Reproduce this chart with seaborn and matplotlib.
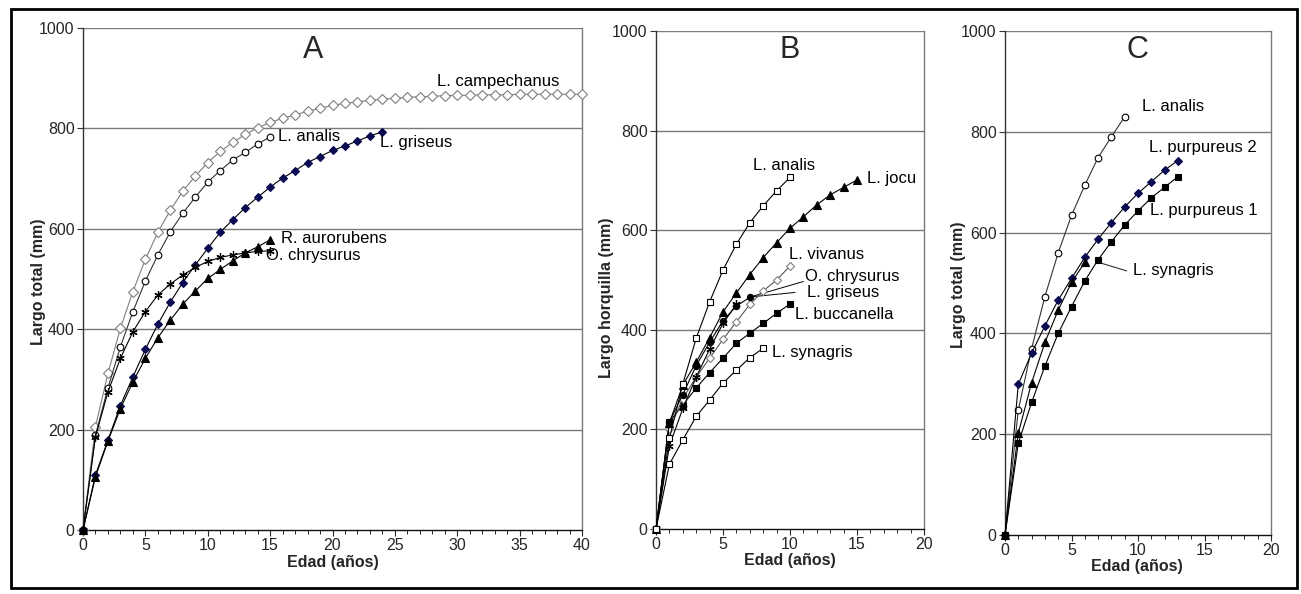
import numpy as np
import pandas as pd
import matplotlib
matplotlib.use("Agg")
import matplotlib.pyplot as plt
from matplotlib.patches import Rectangle
from matplotlib.ticker import MultipleLocator
import seaborn as sns

# ---------------- data ----------------
# Panel A : Largo total (mm) vs Edad (años)
a_campechanus = [0, 206, 312, 402, 475, 539, 593, 637, 675, 705, 732, 754, 772, 788, 801,
                 812, 820, 827, 834, 840, 846, 850, 853, 856, 858, 860, 862, 863, 864, 865,
                 866, 866, 867, 867, 867, 868, 868, 868, 868, 868, 868]
a_analis = [0, 189, 283, 365, 435, 496, 548, 594, 631, 663, 693, 716, 737, 752, 769, 783]
a_griseus = [0, 110, 179, 248, 305, 360, 410, 454, 493, 528, 561, 593, 618, 642, 663, 683,
             701, 716, 732, 744, 756, 765, 775, 785, 793]
a_aurorubens = [0, 106, 177, 242, 295, 342, 383, 418, 450, 476, 501, 519, 536, 552, 564, 578]
a_chrysurus = [0, 186, 275, 342, 395, 435, 468, 490, 508, 523, 535, 543, 548, 552, 555, 556]

# Panel B : Largo horquilla (mm)
b_analis = [0, 182, 291, 383, 456, 520, 572, 615, 649, 679, 706]
b_jocu = [0, 213, 289, 335, 384, 436, 474, 511, 545, 575, 604, 627, 651, 671, 686, 701]
b_vivanus = [0, 200, 262, 305, 343, 381, 416, 451, 478, 500, 528]
b_chrysurus = [0, 167, 242, 305, 361, 413, 451]
b_griseus = [0, 215, 270, 328, 375, 418, 448, 465]
b_buccanella = [0, 215, 249, 283, 314, 343, 373, 393, 413, 433, 452]
b_synagris = [0, 130, 179, 226, 259, 293, 319, 344, 363]

# Panel C : Largo total (mm)
c_analis = [0, 248, 370, 473, 560, 634, 694, 749, 790, 830]
c_purpureus2 = [0, 299, 361, 415, 466, 509, 551, 587, 620, 651, 678, 701, 724, 743]
c_purpureus1 = [0, 182, 263, 335, 400, 453, 504, 546, 582, 615, 643, 669, 690, 711]
c_synagris = [0, 202, 302, 382, 446, 501, 541]

panel_titles = ["A", "B", "C"]
y_labels = ["Largo total (mm)", "Largo horquilla (mm)", "Largo total (mm)"]
x_label = "Edad (años)"
y_ticks = [0, 200, 400, 600, 800, 1000]

# ---------------- style ----------------
sns.set_style("white")
plt.rcParams["font.family"] = ["Liberation Sans", "DejaVu Sans"]

W, H = 1301, 594
fig = plt.figure(figsize=(W / 100, H / 100), dpi=100)
fig.patch.set_facecolor("white")

def px_axes(x0, y0, x1, y1):
    return fig.add_axes([x0 / W, 1 - y1 / H, (x1 - x0) / W, (y1 - y0) / H])

axA = px_axes(83, 28, 582, 530)
axB = px_axes(656, 31, 924, 529)
axC = px_axes(1005, 31, 1271, 535)

GRID = "#7a7a7a"

def style_axis(ax, xmax):
    ax.set_xlim(0, xmax)
    ax.set_ylim(0, 1000)
    ax.set_yticks(y_ticks)
    ax.xaxis.set_major_locator(MultipleLocator(5))
    ax.xaxis.set_minor_locator(MultipleLocator(1))
    for yv in y_ticks[1:]:
        ax.axhline(yv, color=GRID, lw=1.0, zorder=0)
    ax.spines["top"].set_visible(False)
    ax.spines["right"].set_color(GRID)
    ax.spines["right"].set_linewidth(1.0)
    ax.spines["left"].set_color("#333333")
    ax.spines["bottom"].set_color("#111111")
    ax.spines["left"].set_linewidth(1.0)
    ax.spines["bottom"].set_linewidth(1.0)
    ax.tick_params(axis="y", which="major", direction="out", length=4, width=0.8,
                   pad=2, labelsize=11.5, left=True, color="#333333")
    ax.tick_params(axis="x", which="major", direction="out", length=4, width=0.8,
                   pad=1.5, labelsize=11.5, bottom=True)
    ax.tick_params(axis="x", which="minor", direction="out", length=3, width=0.7, bottom=True)
    ax.set_xlabel("")
    ax.set_ylabel("")

def series(ax, vals, marker, color="black", mfc="black", mec="black", ms=5, lw=0.8, mew=0.8):
    ages = np.arange(len(vals))
    df = pd.DataFrame({"age": ages, "val": vals})
    sns.lineplot(data=df, x="age", y="val", ax=ax, estimator=None, sort=False,
                 color=color, marker=marker, markersize=ms, markerfacecolor=mfc,
                 markeredgecolor=mec, markeredgewidth=mew, linewidth=lw, clip_on=False,
                 zorder=3)

NAVY = "#0a0a50"
GRAYL = "#7f7f7f"
ASTER = (6, 2, 0)

# ---- Panel A ----
series(axA, a_campechanus, "D", color=GRAYL, mfc="white", mec=GRAYL, ms=4.8)
series(axA, a_analis, "o", color="#333333", mfc="white", mec="black", ms=4.8)
series(axA, a_griseus, "D", color="black", mfc=NAVY, mec=NAVY, ms=4.5)
series(axA, a_aurorubens, "^", ms=5.5)
series(axA, a_chrysurus, ASTER, ms=6, mew=0.9)
style_axis(axA, 40)
axA.set_xticks(range(0, 41, 5))

# ---- Panel B ----
series(axB, b_synagris, "s", mfc="white", ms=4.8)
series(axB, b_buccanella, "s", ms=5)
series(axB, b_vivanus, "D", color="#555555", mfc="white", mec=GRAYL, ms=4.5)
series(axB, b_chrysurus, ASTER, ms=6, mew=0.9)
series(axB, b_griseus, "o", ms=4.5)
series(axB, b_jocu, "^", ms=5.5)
series(axB, b_analis, "s", mfc="white", ms=4.8)
style_axis(axB, 20)

# ---- Panel C ----
series(axC, c_analis, "o", color="#333333", mfc="white", mec="black", ms=4.8)
series(axC, c_purpureus2, "D", color="black", mfc=NAVY, mec=NAVY, ms=4.5)
series(axC, c_purpureus1, "s", ms=5)
series(axC, c_synagris, "^", ms=5.5)
style_axis(axC, 20)

# ---- text labels ----
LFS = 12
def lab(ax, x, y, s, **kw):
    ax.text(x, y, s, fontsize=LFS, ha="left", va="center", color="black", **kw)

lab(axA, 28.35, 894, "L. campechanus")
lab(axA, 15.6, 783, "L. analis")
lab(axA, 23.8, 771, "L. griseus")
lab(axA, 15.9, 580, "R. aurorubens")
lab(axA, 14.7, 546, "O. chrysurus")

lab(axB, 7.26, 730, "L. analis")
lab(axB, 15.72, 704, "L. jocu")
lab(axB, 9.93, 552, "L. vivanus")
lab(axB, 11.1, 508, "O. chrysurus")
lab(axB, 11.25, 474, "L. griseus")
lab(axB, 10.37, 430, "L. buccanella")
lab(axB, 8.63, 355, "L. synagris")
axB.plot([11.0, 7.05], [497, 466], color="black", lw=0.7, zorder=2)
axB.plot([10.37, 7.05], [475, 466], color="black", lw=0.7, zorder=2)

lab(axC, 10.28, 850, "L. analis")
lab(axC, 10.85, 769, "L. purpureus 2")
lab(axC, 10.9, 643, "L. purpureus 1")
lab(axC, 9.65, 524, "L. synagris")
axC.plot([9.15, 6.9], [524, 542], color="#333333", lw=0.8, zorder=2)

# panel letters
for t, xp in [("A", 313), ("B", 790), ("C", 1137)]:
    fig.text(xp / W, 1 - 50 / H, t, fontsize=22, ha="center", va="center")

# axis labels
fig.text(38 / W, 1 - 282 / H, y_labels[0], rotation=90, ha="center", va="center",
         fontsize=11.5, fontweight="bold")
fig.text(606 / W, 1 - 298 / H, y_labels[1], rotation=90, ha="center", va="center",
         fontsize=11.5, fontweight="bold")
fig.text(958 / W, 1 - 285 / H, y_labels[2], rotation=90, ha="center", va="center",
         fontsize=11.5, fontweight="bold")
for xc, yc in [(333, 562), (790, 561), (1137, 567)]:
    fig.text(xc / W, 1 - yc / H, x_label, ha="center", va="center",
             fontsize=11.5, fontweight="bold")

# outer frame
fig.patches.append(Rectangle((11 / W, 1 - 588 / H), (1297 - 11) / W, (588 - 9) / H,
                             transform=fig.transFigure, fill=False, edgecolor="black",
                             linewidth=2.0, zorder=10))

fig.savefig("out.png", dpi=100, facecolor="white")
